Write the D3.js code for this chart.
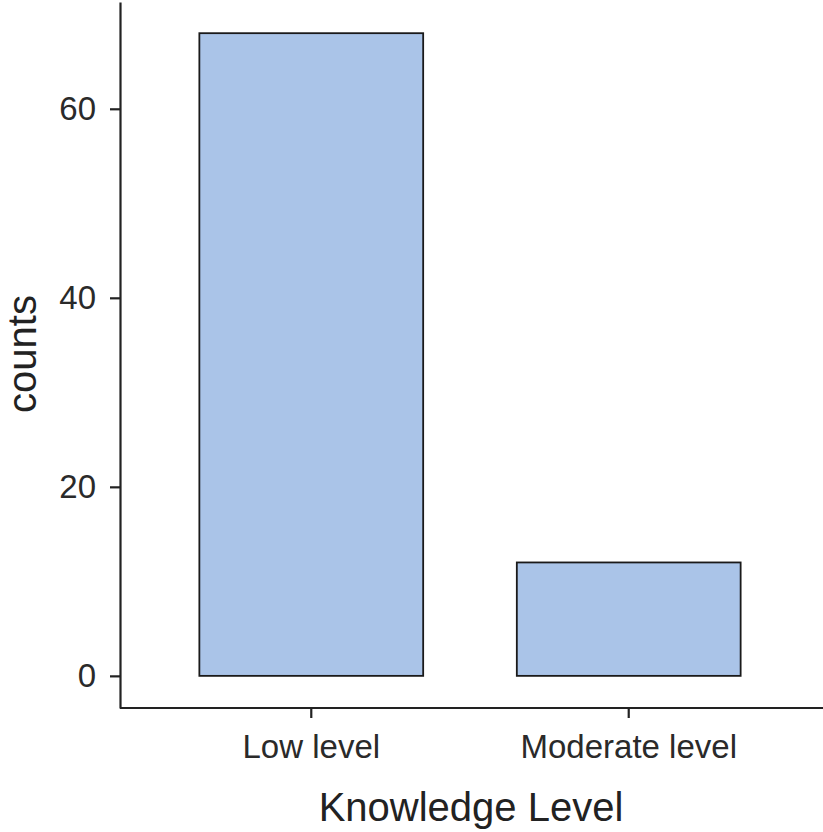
<!DOCTYPE html>
<html>
<head>
<meta charset="utf-8">
<script src="https://cdn.jsdelivr.net/npm/d3@7"></script>
<style>
  body { margin: 0; background: #fff; }
  svg { display: block; }
</style>
</head>
<body>
<script>
"use strict";

// data
const levels = ['Low level', 'Moderate level'];
const counts = [68, 12];
const yTicks = [0, 20, 40, 60];

const W = 823, H = 832;
const font = "'Liberation Sans', Arial, sans-serif";

const svg = d3.select('body')
    .append('svg')
    .attr('width', W)
    .attr('height', H);

// scales
const x = d3.scaleBand()
    .domain(levels)
    .range([120, 820])
    .paddingInner(0.295)
    .paddingOuter(0.25);

const y = d3.scaleLinear()
    .domain([-3.4, 71.3])
    .range([708, 2]);

// bars
svg.selectAll('rect.bar')
    .data(levels)
    .enter()
    .append('rect')
    .attr('class', 'bar')
    .attr('x', d => x(d))
    .attr('y', (d, i) => y(counts[i]))
    .attr('width', x.bandwidth())
    .attr('height', (d, i) => y(0) - y(counts[i]))
    .attr('fill', '#aac4e8')
    .attr('stroke', '#1a1a1a')
    .attr('stroke-width', 1.8);

// y axis
const gy = svg.append('g')
    .attr('transform', 'translate(120,0)')
    .call(d3.axisLeft(y).tickValues(yTicks).tickSize(10).tickSizeOuter(0).tickPadding(14));

// x axis
const gx = svg.append('g')
    .attr('transform', 'translate(0,708)')
    .call(d3.axisBottom(x).tickSize(10).tickSizeOuter(0).tickPadding(17));

// x axis line runs to the right edge
gx.select('.domain').attr('d', 'M' + x.range()[0] + ',0H' + W);

[gy, gx].forEach(g => {
    g.select('.domain').attr('stroke', '#222').attr('stroke-width', 2.2);
    g.selectAll('.tick line').attr('stroke', '#222').attr('stroke-width', 2.2);
    g.selectAll('.tick text')
	.attr('fill', '#2a2a2a')
	.style('font-family', font)
	.style('font-size', '33px');
});

// axis titles
svg.append('text')
    .attr('x', 471)
    .attr('y', 821)
    .attr('text-anchor', 'middle')
    .attr('fill', '#222')
    .style('font-family', font)
    .style('font-size', '40px')
    .text('Knowledge Level');

svg.append('text')
    .attr('transform', 'translate(36,354) rotate(-90)')
    .attr('text-anchor', 'middle')
    .attr('fill', '#222')
    .style('font-family', font)
    .style('font-size', '40px')
    .text('counts');
</script>
</body>
</html>
